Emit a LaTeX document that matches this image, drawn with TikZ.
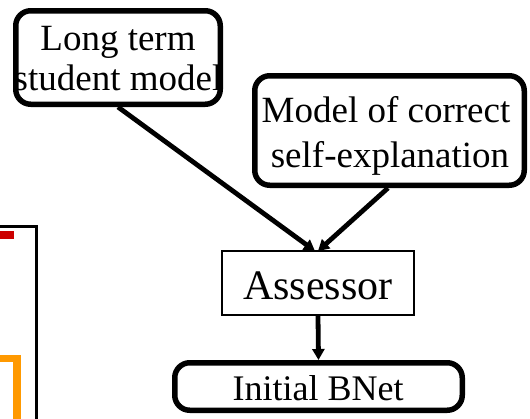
\documentclass[tikz,border=0pt]{standalone}
\usepackage{fontspec}
\setmainfont{Liberation Serif}
\usetikzlibrary{arrows.meta,calc}
\definecolor{barred}{HTML}{CC0000}
\definecolor{barorange}{HTML}{FF9900}
\begin{document}
\begin{tikzpicture}[x=1pt,y=-1pt,
  roundbox/.style={draw=black,line width=5.5pt,rounded corners=15pt,inner sep=0pt},
  plainbox/.style={draw=black,line width=2pt,inner sep=0pt},
  txt/.style={anchor=base,inner sep=0pt,text=black},
  conn/.style={line width=4.8pt,-{Triangle[length=11pt,width=12pt]}}]
\useasboundingbox (0,0) rectangle (530,418);
\clip (0,0) rectangle (530,418);
% partial box at left
\draw[line width=3pt] (-10,226.5) -- (36.5,226.5) -- (36.5,430);
\fill[barred] (0,231) rectangle (14,239);
\draw[barorange,line width=7.5pt] (-5,358.5) -- (17,358.5) -- (17,430);
% boxes
\node[roundbox,minimum width=204.5pt,minimum height=93.5pt] (ltsm) at (118,57.5) {};
\node[roundbox,minimum width=269.5pt,minimum height=109.5pt] (mcse) at (389.5,130.5) {};
\node[plainbox,minimum width=192pt,minimum height=64pt] (asr) at (318,283) {};
\node[roundbox,minimum width=287.5pt,minimum height=47.5pt] (ibn) at (318.5,386.5) {};
% texts
\node[txt,font=\fontsize{37}{40}\selectfont] (t1a) at (118,50) {Long term};
\node[txt,font=\fontsize{37}{40}\selectfont] (t1b) at (118,90) {student model};
\node[txt,font=\fontsize{37}{40}\selectfont] (t2a) at (386,122) {Model of correct};
\node[txt,font=\fontsize{37}{40}\selectfont] (t2b) at (390,167) {self-explanation};
\node[txt,font=\fontsize{42}{44}\selectfont] (t3) at (318,299) {Assessor};
\node[txt,font=\fontsize{36}{40}\selectfont] (t4) at (318,400) {Initial BNet};
% connectors
\draw[conn] (ltsm.south) -- ($(asr.north)+(-3,1)$);
\draw[conn] ($(mcse.south)+(-1.5,0)$) -- ($(asr.north)+(0,1)$);
\draw[conn] (asr.south) -- (ibn.north);
\end{tikzpicture}
\end{document}
